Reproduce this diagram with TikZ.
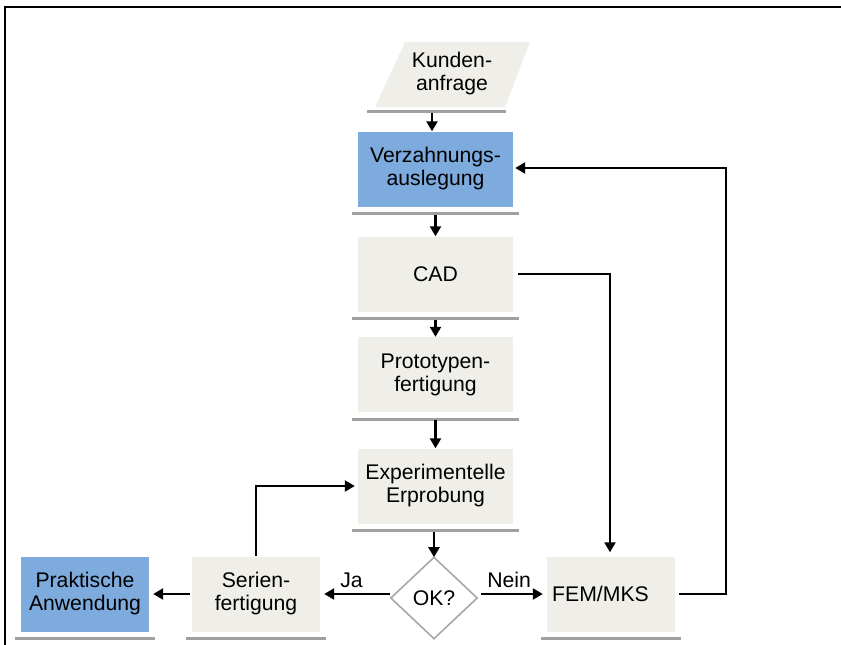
\documentclass[tikz,border=0pt]{standalone}
\usepackage{fontspec}
\setmainfont{Liberation Sans}
\usetikzlibrary{shapes.geometric,arrows.meta}
\definecolor{boxgray}{RGB}{239,238,232}
\definecolor{boxblue}{RGB}{125,171,221}
\definecolor{shadowgray}{RGB}{160,160,160}
\definecolor{diagray}{RGB}{168,168,168}
\begin{document}
\begin{tikzpicture}[x=1pt,y=-1pt,
  font=\fontsize{21.2}{23}\selectfont,
  stepbox/.style={rectangle,fill=boxgray,minimum width=155pt,minimum height=75pt,inner sep=0pt,align=center},
  smallbox/.style={stepbox,minimum width=128pt},
  bluebox/.style={fill=boxblue},
  shadowline/.style={draw=shadowgray,line width=3pt},
  arr/.style={draw=black,line width=2.3pt,-{Triangle[length=10pt,width=11pt]}},
  conn/.style={draw=black,line width=2.3pt}
]
\useasboundingbox (0,0) rectangle (841,645);
% frame
\draw[line width=1.6pt] (841,7) -- (5,7) -- (5,645);

% Kundenanfrage (parallelogram)
\fill[boxgray] (405,42) -- (530,42) -- (505,107) -- (375,107) -- cycle;
\draw[shadowline] (367,111) -- (506,111);
\node[align=center,minimum width=130pt,minimum height=66pt,inner sep=0pt] (kunden) at (452,73.5) {Kunden-\\anfrage};

% process boxes
\node[stepbox,bluebox] (verz) at (435.5,169) {Verzahnungs-\\auslegung};
\node[stepbox] (cad) at (435.5,274) {CAD};
\node[stepbox] (proto) at (435.5,374.5) {Prototypen-\\fertigung};
\node[stepbox] (exp) at (435.5,486) {Experimentelle\\Erprobung};
\node[smallbox] (fem) at (611,594) {};
\node[anchor=center] (femtext) at (600.5,594) {FEM/MKS};
\node[smallbox] (serien) at (256,594) {Serien-\\fertigung};
\node[smallbox,bluebox] (prakt) at (85,594) {Praktische\\Anwendung};
\node[diamond,draw=diagray,fill=white,line width=1.6pt,minimum width=87pt,minimum height=82pt,inner sep=0pt] (ok) at (434,598) {OK?};

% shadow lines under boxes
\foreach \n in {verz,cad,proto,exp,fem,serien,prakt}
  \draw[shadowline] ([xshift=-6pt,yshift=-7pt]\n.south west) -- ([xshift=6pt,yshift=-7pt]\n.south east);

% vertical flow
\draw[arr] ([xshift=-20pt,yshift=-6pt]kunden.south) -- ([xshift=-3.5pt]verz.north);
\draw[arr] ([yshift=-8pt]verz.south) -- (cad.north);
\draw[arr] ([yshift=-8pt]cad.south) -- (proto.north);
\draw[arr] ([yshift=-8pt]proto.south) -- (exp.north);
\draw[arr] ([xshift=-1.5pt,yshift=-8pt]exp.south) -- ([xshift=-1.5pt,yshift=-1pt]exp.south |- ok.north);

% decision branches
\draw[arr,shorten >=4pt] ([yshift=4pt]ok.west) -- node[above=2pt,pos=0.55] {Ja} (serien.east);
\draw[arr,shorten <=3pt,shorten >=4pt] (ok.east |- fem.west) -- node[above=2pt,pos=0.45] {Nein} (fem.west);
\draw[arr,shorten <=2pt,shorten >=4pt] (serien.west) -- (prakt.east);

% feedback loops
\coordinate (fr) at (726,594);
\coordinate (tr) at (726,168);
\draw[arr,shorten >=2pt] ([xshift=4pt]fem.east) -- (fr) -- (tr) -- (tr -| verz.east);
\coordinate (cr) at (610,274);
\draw[arr,shorten >=4pt] ([xshift=5pt]cad.east) -- (cr) -- (cr |- fem.north);
\coordinate (sl) at (256,486);
\draw[arr,shorten >=3pt] (serien.north) -- (sl) -- (exp.west);
\end{tikzpicture}
\end{document}
